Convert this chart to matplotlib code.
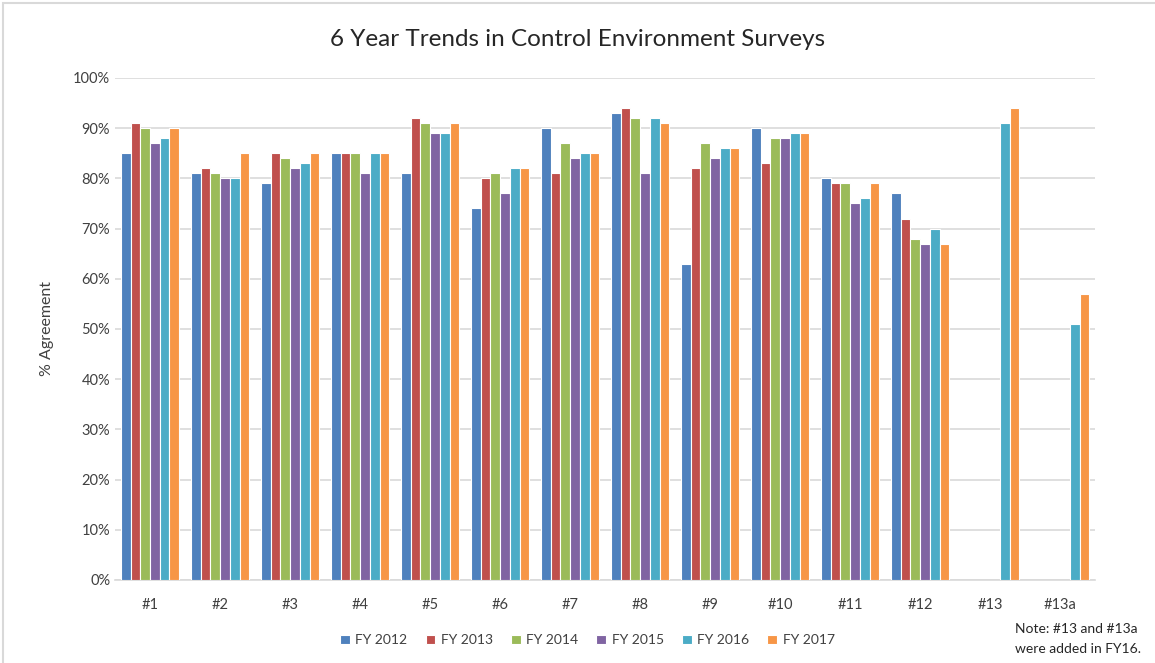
import matplotlib.pyplot as plt
import numpy as np
from matplotlib.patches import Rectangle

plt.rcParams['font.family'] = ['Lato', 'DejaVu Sans']

categories = ['#1', '#2', '#3', '#4', '#5', '#6', '#7', '#8', '#9', '#10', '#11', '#12', '#13', '#13a']
years = ['FY 2012', 'FY 2013', 'FY 2014', 'FY 2015', 'FY 2016', 'FY 2017']
nan = np.nan
fy2012 = [85, 81, 79, 85, 81, 74, 90, 93, 63, 90, 80, 77, nan, nan]
fy2013 = [91, 82, 85, 85, 92, 80, 81, 94, 82, 83, 79, 72, nan, nan]
fy2014 = [90, 81, 84, 85, 91, 81, 87, 92, 87, 88, 79, 68, nan, nan]
fy2015 = [87, 80, 82, 81, 89, 77, 84, 81, 84, 88, 75, 67, nan, nan]
fy2016 = [88, 80, 83, 85, 89, 82, 85, 92, 86, 89, 76, 70, 91, 51]
fy2017 = [90, 85, 85, 85, 91, 82, 85, 91, 86, 89, 79, 67, 94, 57]
series = [fy2012, fy2013, fy2014, fy2015, fy2016, fy2017]
colors = ['#4F81BD', '#C0504D', '#9BBB59', '#8064A2', '#4BACC6', '#F79646']

fig = plt.figure(figsize=(11.55, 6.63), dpi=100)
ax = fig.add_axes([0.0996, 0.1252, 0.8485, 0.7572])

x = np.arange(len(categories))
pitch = 0.139
for i, (vals, c, lab) in enumerate(zip(series, colors, years)):
    ax.bar(x + (i - 2.5) * pitch, np.array(vals, dtype=float), width=pitch,
           color=c, edgecolor='white', linewidth=0.8, label=lab, zorder=3)

ax.set_xlim(-0.5, len(categories) - 0.5)
ax.set_ylim(0, 100)
ax.set_yticks(np.arange(0, 101, 10))
ax.set_yticklabels([f'{v}%' for v in range(0, 101, 10)])
ax.set_xticks(x)
ax.set_xticklabels(categories)
ax.tick_params(axis='both', length=0, colors='#404040', labelsize=10.5)
ax.tick_params(axis='x', pad=13)
ax.grid(axis='y', color='#D9D9D9', linewidth=1.2, zorder=0)
for s in ['top', 'right', 'left']:
    ax.spines[s].set_visible(False)
ax.spines['bottom'].set_color('#D9D9D9')
ax.spines['bottom'].set_linewidth(1.2)

ax.set_ylabel('% Agreement', fontsize=11.5, color='#404040', labelpad=14)
fig.text(0.5, 0.94, '6 Year Trends in Control Environment Surveys',
         ha='center', va='center', fontsize=17.5, color='#262626')

ax.legend(loc='center', bbox_to_anchor=(0.482, -0.12), ncol=6, frameon=False,
          fontsize=10, handlelength=0.7, handleheight=0.7, columnspacing=1.3,
          handletextpad=0.4, labelcolor='#404040')

fig.text(0.879, 0.036, 'Note: #13 and #13a\nwere added in FY16.', ha='left', va='center',
         fontsize=10, color='#262626', linespacing=1.75)

fig.patches.append(Rectangle((0.003, -0.01), 1.02, 1.005, transform=fig.transFigure,
                             fill=False, edgecolor='#D9D9D9', linewidth=1.5))

fig.savefig('out.png', dpi=100)
